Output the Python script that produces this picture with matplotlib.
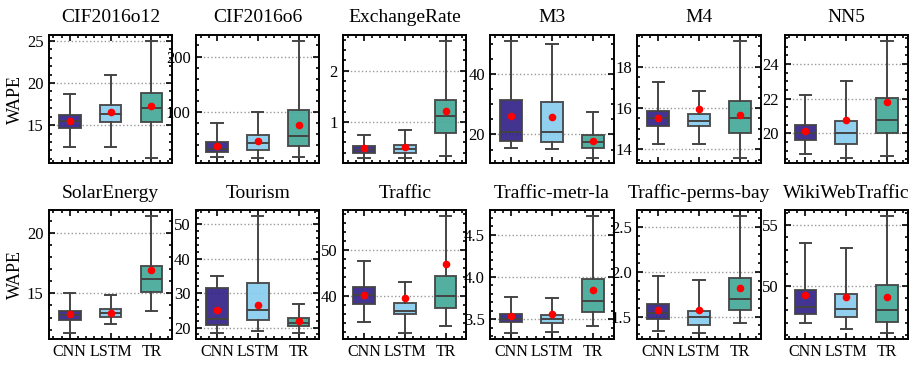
import matplotlib
matplotlib.use("Agg")
import matplotlib.pyplot as plt
from matplotlib.ticker import AutoMinorLocator, FixedLocator

plt.rcParams['font.family'] = ['Liberation Serif', 'DejaVu Serif']
plt.rcParams['mathtext.fontset'] = 'stix'

models = ["CNN", "LSTM", "TR"]
colors = ["#332288", "#88CCEE", "#44AA99"]

datasets = ["CIF2016o12", "CIF2016o6", "ExchangeRate", "M3", "M4", "NN5",
            "SolarEnergy", "Tourism", "Traffic", "Traffic-metr-la",
            "Traffic-perms-bay", "WikiWebTraffic"]

# per dataset: [CNN, LSTM, TR]
whislo = [
    [12.4, 12.45, 11.15], [18.2, 16.4, 17.0], [0.30, 0.30, 0.34], [15.5, 15.2, 12.3],
    [14.25, 14.28, 13.6], [18.83, 18.60, 18.68],
    [11.72, 12.49, 13.58], [18.5, 18.9, 18.4], [34.3, 31.8, 33.4], [3.335, 3.35, 3.42],
    [1.333, 1.315, 1.43], [46.93, 46.5, 46.14],
]
q1 = [
    [14.7, 15.35, 15.35], [26.7, 30.3, 37.6], [0.39, 0.396, 0.78], [17.8, 17.5, 15.6],
    [15.13, 15.13, 14.78], [19.64, 19.41, 20.02],
    [12.84, 13.03, 15.14], [20.8, 22.1, 20.6], [38.2, 35.9, 37.2], [3.468, 3.449, 3.59],
    [1.474, 1.40, 1.574], [47.72, 47.45, 47.04],
]
med = [
    [15.45, 16.3, 17.0], [32.7, 43.6, 55.2], [0.455, 0.461, 1.104], [20.9, 20.8, 17.6],
    [15.50, 15.39, 15.50], [20.0, 20.0, 20.75],
    [13.22, 13.36, 16.20], [22.5, 25.1, 21.3], [40.1, 36.7, 40.0], [3.50, 3.50, 3.72],
    [1.544, 1.50, 1.696], [48.29, 48.15, 48.04],
]
q3 = [
    [16.15, 17.4, 18.8], [44.2, 57.6, 103.6], [0.532, 0.552, 1.416], [31.5, 30.9, 19.7],
    [15.84, 15.73, 16.33], [20.48, 20.69, 22.02],
    [13.58, 13.69, 17.30], [31.45, 32.9, 22.9], [41.9, 38.3, 44.4], [3.567, 3.555, 3.98],
    [1.641, 1.567, 1.926], [49.65, 49.35, 50.08],
]
whishi = [
    [18.7, 21.0, 25.0], [78.8, 99.4, 228.5], [0.747, 0.844, 2.58], [51.1, 49.9, 27.4],
    [17.27, 16.85, 19.26], [22.18, 23.04, 25.33],
    [15.05, 14.84, 21.37], [35.0, 52.4, 26.9], [47.6, 43.1, 57.4], [3.764, 3.756, 4.72],
    [1.956, 1.904, 2.62], [53.53, 53.1, 55.73],
]
means = [
    [15.55, 16.6, 17.25], [37.6, 46.1, 75.8], [0.487, 0.513, 1.214], [26.0, 25.7, 17.9],
    [15.53, 15.97, 15.65], [20.13, 20.75, 21.83],
    [13.31, 13.36, 16.91], [25.2, 26.6, 22.0], [40.2, 39.4, 47.0], [3.54, 3.559, 3.84],
    [1.574, 1.57, 1.822], [49.29, 49.1, 49.1],
]
yticks = [
    [15, 20, 25], [100, 200], [1, 2], [20, 40], [14, 16, 18], [20, 22, 24],
    [15, 20], [20, 30, 40, 50], [40, 50], [3.5, 4.0, 4.5], [1.5, 2.0, 2.5], [50, 55],
]
yticklabels = [
    ["15", "20", "25"], ["100", "200"], ["1", "2"], ["20", "40"], ["14", "16", "18"],
    ["20", "22", "24"], ["15", "20"], ["20", "30", "40", "50"], ["40", "50"],
    ["3.5", "4.0", "4.5"], ["1.5", "2.0", "2.5"], ["50", "55"],
]

fig, axes = plt.subplots(2, 6, figsize=(9.17, 3.68), dpi=100)
fig.subplots_adjust(left=0.0534, right=0.990, top=0.905, bottom=0.079,
                    wspace=0.194, hspace=0.365)

edge = "#444444"
for i, ax in enumerate(axes.flat):
    stats = []
    for j in range(3):
        stats.append(dict(whislo=whislo[i][j], q1=q1[i][j], med=med[i][j],
                          q3=q3[i][j], whishi=whishi[i][j], mean=means[i][j],
                          fliers=[], label=models[j]))
    bp = ax.bxp(stats, positions=[1, 2, 3], widths=0.53, capwidths=0.28,
                showmeans=True, showfliers=False, patch_artist=True,
                boxprops=dict(edgecolor=edge, linewidth=1.4),
                whiskerprops=dict(color=edge, linewidth=1.4),
                capprops=dict(color=edge, linewidth=1.4),
                medianprops=dict(color=edge, linewidth=1.4),
                meanprops=dict(marker='o', markerfacecolor='red',
                               markeredgecolor='red', markersize=4.5))
    for patch, c in zip(bp['boxes'], colors):
        patch.set_facecolor(c)
        patch.set_alpha(0.92)
        patch.set_edgecolor(edge)
    ax.set_xlim(0.49, 3.51)
    ax.set_title(datasets[i], fontsize=14, pad=9)
    ax.yaxis.set_major_locator(FixedLocator(yticks[i]))
    ax.set_yticklabels(yticklabels[i])
    ax.yaxis.set_minor_locator(AutoMinorLocator())
    ax.xaxis.set_minor_locator(AutoMinorLocator())
    ax.set_xticks([1, 2, 3])
    if i >= 6:
        ax.set_xticklabels(models)
    else:
        ax.set_xticklabels([])
    ax.tick_params(which='both', direction='in', top=True, right=True, width=1.2)
    ax.tick_params(axis='y', labelsize=12)
    ax.tick_params(axis='x', labelsize=11.5)
    ax.tick_params(which='major', length=4.5, pad=4)
    ax.tick_params(which='minor', length=2.4)
    for s in ax.spines.values():
        s.set_linewidth(1.4)
    ax.grid(axis='y', which='major', linestyle=':', color='#999999', linewidth=1.0)
    ax.set_axisbelow(True)
    if i % 6 == 0:
        ax.set_ylabel("WAPE", fontsize=13, labelpad=2)

fig.savefig("out.png", dpi=100)
